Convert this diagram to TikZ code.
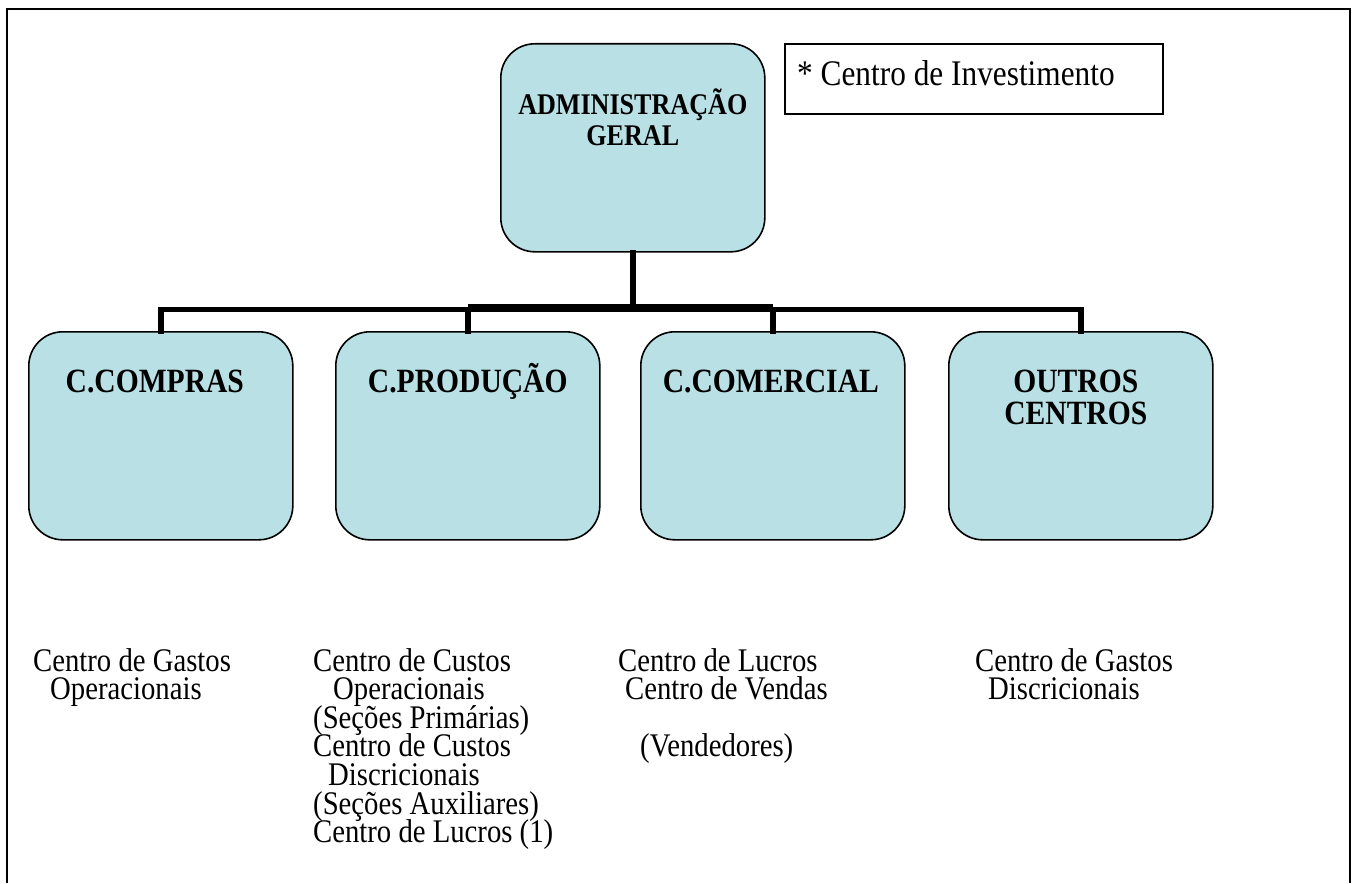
\documentclass[tikz,border=0pt]{standalone}
\usepackage{fontspec}
\setmainfont{Liberation Serif}[FakeStretch=0.87]
\definecolor{boxfill}{RGB}{185,224,228}
\tikzset{
  unitbox/.style={draw=black, line width=1.6pt, fill=boxfill, rounded corners=34pt,
    minimum width=264pt, minimum height=208pt, inner sep=0pt, anchor=north west},
  boxlabel/.style={font=\bfseries\fontsize{34}{32}\selectfont, align=center, inner sep=0pt},
  toplabel/.style={font=\bfseries\fontsize{30}{31}\selectfont, align=center, inner sep=0pt},
  desc/.style={font=\fontsize{33}{28.6}\selectfont, anchor=base west, inner sep=0pt},
  conn/.style={line width=5.5pt, line cap=rect},
}
\begin{document}
\begin{tikzpicture}[x=1pt, y=-1pt]
\useasboundingbox (0,0) rectangle (1356,883);
% outer frame (open at the bottom)
\draw[line width=2.2pt] (7,883) -- (7,9) -- (1350,9) -- (1350,883);

% boxes
\node[unitbox] (top) at (500,43) {};
\node[unitbox] (c1) at (28,331) {};
\node[unitbox] (c2) at (335,331) {};
\node[unitbox] (c3) at (640,331) {};
\node[unitbox] (c4) at (948,331) {};

% legend
\node[draw=black, line width=1.6pt, minimum width=378pt, minimum height=70pt, inner sep=0pt, anchor=north west] (leg) at (784,43) {};
\node[font=\fontsize{36}{31}\selectfont, anchor=base west, inner sep=0pt] (legt) at (797,85) {* Centro de Investimento};

% labels
\node[toplabel] (topl) at ([yshift=-74pt]top.north) {ADMINISTRAÇÃO\\GERAL};
\node[boxlabel] (l1) at ([xshift=-6pt,yshift=-50pt]c1.north) {C.COMPRAS};
\node[boxlabel] (l2) at ([yshift=-50pt]c2.north) {C.PRODUÇÃO};
\node[boxlabel] (l3) at ([xshift=-2pt,yshift=-50pt]c3.north) {C.COMERCIAL};
\node[boxlabel] (l4) at ([xshift=-5pt,yshift=-66pt]c4.north) {OUTROS\\CENTROS};

% connectors
\coordinate (hub) at ([yshift=-57pt]top.south);
\draw[conn] (top.south) -- (hub) -| (c1.north);
\draw[conn] (hub) -| (c2.north);
\draw[conn] (hub) -| (c3.north);
\draw[conn] (hub) -| (c4.north);
\draw[line width=8pt] ([yshift=1.5pt]hub -| c2.north) -- ([yshift=1.5pt]hub -| c3.north);

% descriptions
\node[desc] (d11) at (33,671) {Centro de Gastos};
\node[desc] (d12) at (50,699.6) {Operacionais};

\node[desc] (d21) at (313,671) {Centro de Custos};
\node[desc] (d22) at (333,699.6) {Operacionais};
\node[desc] (d23) at (313,728.2) {(Seções Primárias)};
\node[desc] (d24) at (313,756.8) {Centro de Custos};
\node[desc] (d25) at (328,785.4) {Discricionais};
\node[desc] (d26) at (313,814) {(Seções Auxiliares)};
\node[desc] (d27) at (313,842.6) {Centro de Lucros (1)};

\node[desc] (d31) at (618,671) {Centro de Lucros};
\node[desc] (d32) at (625,699.6) {Centro de Vendas};
\node[desc] (d33) at (640,756.8) {(Vendedores)};

\node[desc] (d41) at (975,671) {Centro de Gastos};
\node[desc] (d42) at (988,699.6) {Discricionais};
\end{tikzpicture}
\end{document}
